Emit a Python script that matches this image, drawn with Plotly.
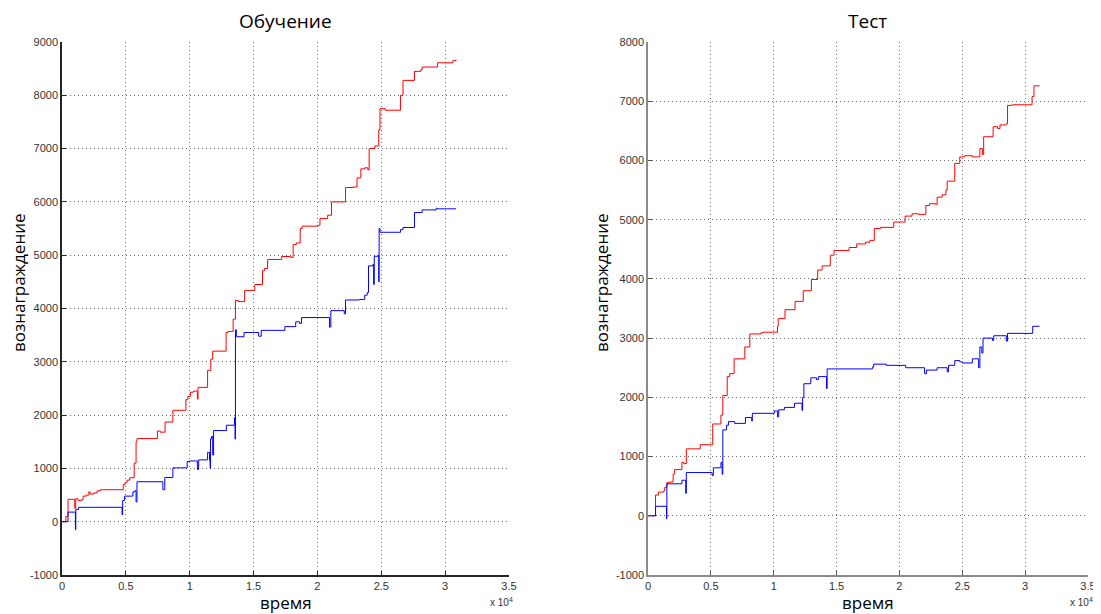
import plotly.graph_objects as go

# ---- data (time in raw units, reward) ----
train_red_t = [0, 300, 470, 1000, 1070, 1250, 1500, 1650, 1900, 2100, 2200, 2500, 2750, 3000, 4800, 4950, 5100, 5300, 5650, 5800, 5870, 7470, 7700, 8070, 8680, 9700, 9850, 10050, 10300, 10600, 10650, 11400, 11650, 11800, 12850, 13000, 13400, 13580, 13800, 14300, 15100, 15700, 15850, 16100, 17200, 17900, 18100, 18350, 18650, 18800, 20000, 20200, 20800, 21100, 22200, 22800, 23100, 23400, 23700, 23950, 24050, 24500, 24800, 24900, 25300, 26500, 26700, 27600, 28100, 28200, 29400, 30600, 30850]
train_red_v = [0, 100, 420, 250, 430, 400, 410, 480, 500, 560, 520, 540, 580, 600, 700, 740, 780, 825, 1100, 1500, 1560, 1700, 1680, 1870, 2090, 2290, 2350, 2430, 2450, 2300, 2520, 2840, 3050, 3200, 3550, 3570, 3800, 4150, 4130, 4340, 4450, 4710, 4750, 4920, 4975, 4960, 5200, 5230, 5500, 5545, 5560, 5690, 5750, 6000, 6270, 6280, 6450, 6620, 6640, 6600, 7000, 7050, 7350, 7750, 7720, 8000, 8280, 8450, 8480, 8530, 8610, 8650, 8670]

train_blue_t = [0, 470, 1050, 1080, 1300, 4700, 4750, 4900, 5550, 5700, 5800, 5870, 7900, 8050, 8680, 9800, 10000, 10600, 10700, 11400, 11550, 11600, 11630, 11700, 11800, 11870, 12870, 13500, 13550, 13580, 13650, 14250, 15400, 15600, 17450, 18300, 18600, 18750, 20950, 21050, 22100, 22200, 23300, 23700, 23900, 24000, 24350, 24400, 24450, 24750, 24800, 24830, 24900, 26500, 26700, 27600, 28200, 29300, 29400, 30850]
train_blue_v = [0, 180, -150, 230, 270, 130, 400, 480, 560, 580, 370, 750, 600, 830, 1010, 1130, 1140, 980, 1160, 1300, 1150, 1000, 1550, 1600, 1250, 1710, 1810, 1950, 1550, 3600, 3470, 3550, 3480, 3590, 3660, 3750, 3720, 3830, 3650, 3960, 3900, 4160, 4170, 4250, 4300, 4800, 4830, 4450, 4980, 5000, 4500, 5500, 5430, 5480, 5520, 5800, 5850, 5880, 5870, 5870]

test_red_t = [0, 600, 830, 1250, 1330, 1500, 1700, 2000, 2100, 2700, 2850, 3050, 4150, 5150, 5800, 5950, 6300, 6500, 6850, 7700, 8100, 9000, 9150, 10300, 10360, 10900, 11700, 12350, 13000, 13500, 13850, 14500, 14800, 16000, 16600, 17300, 17650, 18000, 18500, 19550, 20450, 21000, 21500, 22100, 22400, 22850, 23000, 23400, 23700, 23800, 24400, 24800, 25200, 25800, 26400, 26600, 26700, 27450, 27800, 28000, 28500, 28600, 29000, 30550, 30700, 31150]
test_red_v = [0, 350, 400, 420, 480, 560, 570, 700, 780, 900, 880, 1130, 1200, 1550, 1700, 2030, 2350, 2400, 2650, 2850, 3070, 3090, 3100, 3200, 3330, 3480, 3620, 3800, 3990, 4150, 4220, 4400, 4480, 4530, 4590, 4620, 4650, 4850, 4870, 4960, 5060, 5100, 5090, 5240, 5270, 5260, 5380, 5420, 5500, 5650, 5950, 6060, 6080, 6060, 6200, 6100, 6400, 6570, 6540, 6600, 6620, 6930, 6940, 7080, 7260, 7260]

test_blue_t = [0, 600, 1470, 1500, 2700, 3000, 3050, 5100, 5200, 5800, 5900, 5950, 6250, 6400, 6900, 7750, 8250, 8300, 10050, 10300, 10400, 10850, 11650, 12250, 12300, 12400, 12950, 13400, 13550, 14200, 14250, 17850, 17950, 18950, 20500, 22000, 22150, 23000, 23800, 23900, 24400, 24800, 25000, 25800, 26300, 26400, 26550, 26650, 27400, 27500, 28500, 28600, 30600, 31150]
test_blue_v = [0, 160, -50, 540, 600, 380, 730, 680, 810, 900, 700, 1450, 1530, 1590, 1560, 1660, 1600, 1730, 1770, 1670, 1790, 1830, 1900, 1780, 2000, 2230, 2330, 2300, 2350, 2150, 2480, 2510, 2560, 2540, 2500, 2400, 2460, 2500, 2430, 2540, 2620, 2600, 2580, 2650, 2500, 2850, 2750, 3000, 2960, 3040, 2950, 3080, 3200, 3200]

x_tickvals = [0, 5000, 10000, 15000, 20000, 25000, 30000, 35000]
x_ticktext = ["0", "0.5", "1", "1.5", "2", "2.5", "3", "3.5"]
y1_tickvals = [-1000, 0, 1000, 2000, 3000, 4000, 5000, 6000, 7000, 8000, 9000]
y2_tickvals = [-1000, 0, 1000, 2000, 3000, 4000, 5000, 6000, 7000, 8000]
titles = ["Обучение", "Тест"]
x_label = "время"
y_label = "вознаграждение"

# page body adds an 8px margin; work in reference pixels shifted by OFF
OFF = 8
W, H = 1101 - OFF, 614 - OFF

def px(x):
    return (x - OFF) / W

def py(y):
    return 1 - (y - OFF) / H

fig = go.Figure()

def line(t, v, color, xa, ya):
    fig.add_trace(go.Scatter(x=t, y=v, mode="lines", line=dict(color=color, width=1, shape="hv"),
                             xaxis=xa, yaxis=ya, showlegend=False, hoverinfo="skip"))

line(train_red_t, train_red_v, "#ff0000", "x", "y")
line(train_blue_t, train_blue_v, "#0000ff", "x", "y")
line(test_red_t, test_red_v, "#ff0000", "x2", "y2")
line(test_blue_t, test_blue_v, "#0000ff", "x2", "y2")

tickfont = dict(family="Liberation Sans, Arial", size=11, color="#333333")
grid = dict(showgrid=True, gridcolor="#6a6a6a", griddash="1px,3px", gridwidth=1, zeroline=False,
            ticks="inside", ticklen=4, tickfont=tickfont, showline=True, linewidth=1.5,
            automargin=False)

lx = [px(62), px(509)]
rx = [px(648), px(1088)]
yd = [py(575), py(42)]

def ytext(vals):
    return [str(v) for v in vals]

fig.update_layout(
    width=W, height=H, margin=dict(l=0, r=0, t=0, b=0, autoexpand=False),
    paper_bgcolor="white", plot_bgcolor="white",
    xaxis=dict(domain=lx, range=[0, 35000], tickvals=x_tickvals, ticktext=x_ticktext,
               anchor="y", linecolor="#262626", tickcolor="#262626", **grid),
    yaxis=dict(domain=yd, range=[-1000, 9000], tickvals=y1_tickvals, ticktext=ytext(y1_tickvals),
               anchor="x", linecolor="#262626", tickcolor="#262626", **grid),
    xaxis2=dict(domain=rx, range=[0, 35000], tickvals=x_tickvals, ticktext=x_ticktext,
                anchor="y2", linecolor="#8a8a8a", tickcolor="#555555", **grid),
    yaxis2=dict(domain=yd, range=[-1000, 8000], tickvals=y2_tickvals, ticktext=ytext(y2_tickvals),
                anchor="x2", linecolor="#8a8a8a", tickcolor="#555555", **grid),
)

font_t = dict(family="Open Sans, Noto Sans", size=19, color="black")
font_x = dict(family="Open Sans, Noto Sans", size=17, color="black")
font_y = dict(family="Open Sans, Noto Sans", size=17, color="black")
ann = []
for (dom, title, ylx, x10) in [(lx, titles[0], 18, 515), (rx, titles[1], 601, 1095)]:
    cx = (dom[0] + dom[1]) / 2
    ann.append(dict(x=cx, y=py(21), xref="paper", yref="paper", text=title, showarrow=False,
                    font=font_t, xanchor="center", yanchor="middle"))
    ann.append(dict(x=cx, y=py(602), xref="paper", yref="paper", text=x_label, showarrow=False,
                    font=font_x, xanchor="center", yanchor="middle"))
    ann.append(dict(x=px(ylx), y=py(283), xref="paper", yref="paper", text=y_label,
                    showarrow=False, font=font_y, textangle=-90, xanchor="center", yanchor="middle"))
    ann.append(dict(x=px(x10), y=py(602), xref="paper", yref="paper", text="x 10<sup>4</sup>",
                    showarrow=False, font=dict(family="Liberation Sans, Arial", size=10, color="#333333"),
                    xanchor="right", yanchor="middle"))
fig.update_layout(annotations=ann)

fig.write_html("out.html")
